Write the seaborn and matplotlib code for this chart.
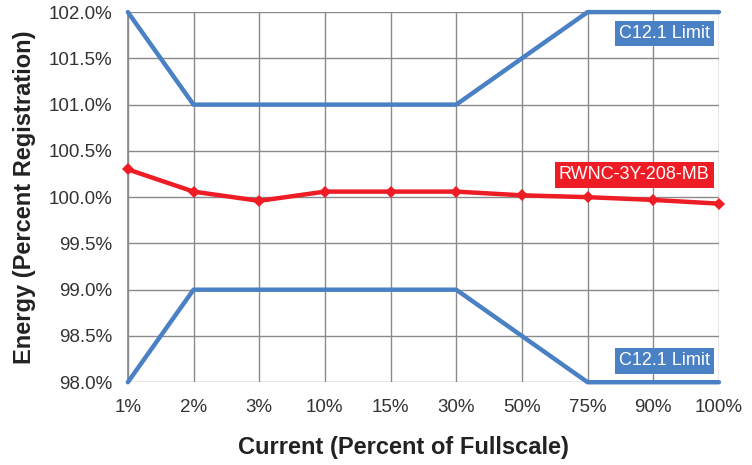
import numpy as np
import pandas as pd
import matplotlib
matplotlib.use("Agg")
import matplotlib.pyplot as plt
import seaborn as sns

# data
categories = ["1%", "2%", "3%", "10%", "15%", "30%", "50%", "75%", "90%", "100%"]
upper_limit = [102.0, 101.0, 101.0, 101.0, 101.0, 101.0, 101.5, 102.0, 102.0, 102.0]
lower_limit = [98.0, 99.0, 99.0, 99.0, 99.0, 99.0, 98.5, 98.0, 98.0, 98.0]
meter = [100.30, 100.06, 99.96, 100.06, 100.06, 100.06, 100.02, 100.00, 99.97, 99.93]
y_ticks = [98.0, 98.5, 99.0, 99.5, 100.0, 100.5, 101.0, 101.5, 102.0]

blue = "#4a80c4"
red = "#ee1c25"

sns.set_theme(style="white")
plt.rcParams["font.family"] = ["Liberation Sans", "DejaVu Sans"]

df = pd.DataFrame({
    "pos": np.arange(len(categories)),
    "upper": upper_limit,
    "lower": lower_limit,
    "meter": meter,
})

fig = plt.figure(figsize=(7.52, 4.65), dpi=100)
ax = fig.add_axes([0.170, 0.178, 0.786, 0.796])

for col in ["upper", "lower"]:
    sns.lineplot(data=df, x="pos", y=col, ax=ax, color=blue, linewidth=3.2,
                 clip_on=False, zorder=3)
sns.lineplot(data=df, x="pos", y="meter", ax=ax, color=red, linewidth=3.2,
             marker="D", markersize=6, markeredgewidth=0, clip_on=False, zorder=4)

ax.set_xlim(0, len(categories) - 1)
ax.set_ylim(98.0, 102.0)
ax.set_xticks(df["pos"])
ax.set_xticklabels(categories)
ax.set_yticks(y_ticks)
ax.set_yticklabels([f"{v:.1f}%" for v in y_ticks])

ax.grid(True, color="#8a8a8a", linewidth=1.0)
ax.set_axisbelow(True)
for s in ax.spines.values():
    s.set_visible(False)
ax.spines["left"].set_visible(True)
ax.spines["left"].set_color("#8a8a8a")
ax.tick_params(axis="both", which="major", length=6, width=1.0, color="#8a8a8a",
               labelsize=13.5, labelcolor="#333333")
ax.tick_params(axis="y", pad=5)
ax.tick_params(axis="x", pad=6)

ax.set_xlabel("Current (Percent of Fullscale)", fontsize=17, fontweight="bold",
              color="#222222")
ax.xaxis.set_label_coords(0.467, -0.145)
ax.set_ylabel("Energy (Percent Registration)", fontsize=17, fontweight="bold",
              color="#222222", labelpad=9)

box_kw = dict(fontsize=13, color="white", ha="right", va="center", zorder=6)
ax.text(8.86, 101.77, "C12.1 Limit",
        bbox=dict(facecolor=blue, edgecolor="none", pad=3), **box_kw)
ax.text(8.86, 98.23, "C12.1 Limit",
        bbox=dict(facecolor=blue, edgecolor="none", pad=3), **box_kw)
ax.text(8.86, 100.24, "RWNC-3Y-208-MB",
        bbox=dict(facecolor=red, edgecolor="none", pad=3), **box_kw)

fig.savefig("out.png", dpi=100)
